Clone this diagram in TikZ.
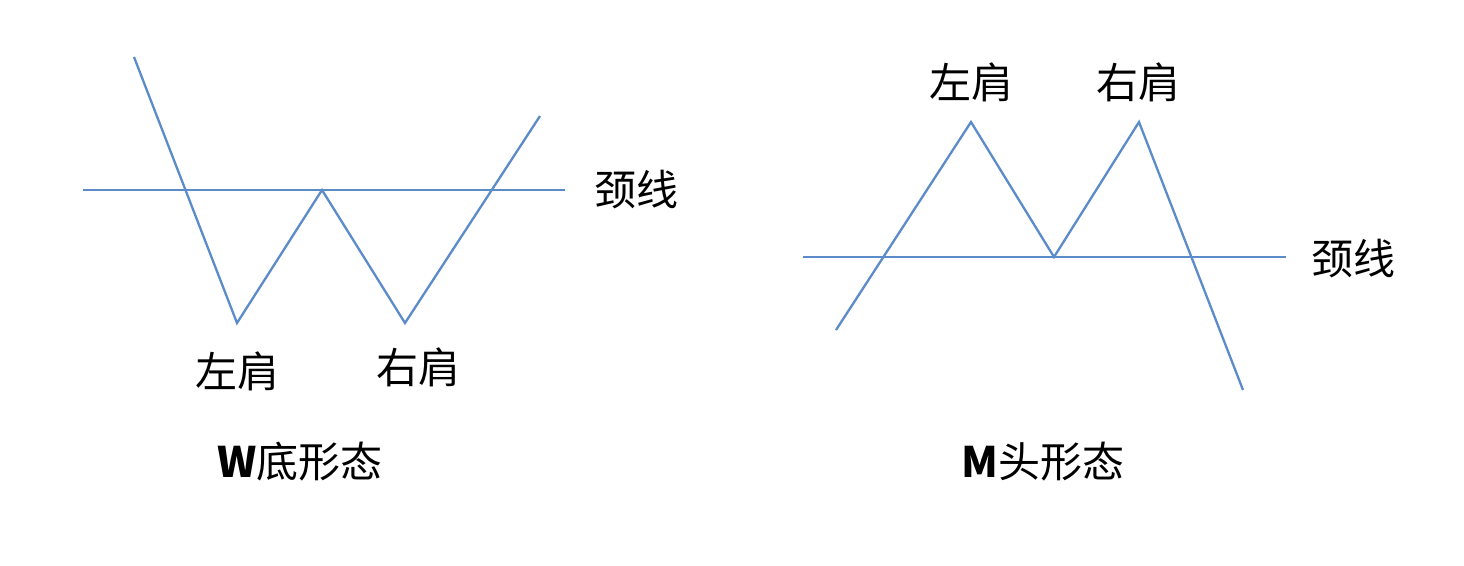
\documentclass[tikz,border=0pt]{standalone}
\usepackage{fontspec}
\setmainfont{Noto Sans CJK SC}
\definecolor{linecol}{RGB}{91,139,201}
\tikzset{
  pline/.style={draw=linecol, line width=2.3pt, line join=miter},
  lbl/.style={font=\fontsize{42}{44}\selectfont, inner sep=0pt},
}
\begin{document}
\begin{tikzpicture}[x=1pt, y=-1pt]
    \useasboundingbox (0,0) rectangle (1464,565);

    % W bottom: points
    \coordinate (w0) at (134,57);
    \coordinate (w1) at (237,323);
    \coordinate (w2) at (322,190);
    \coordinate (w3) at (405,323);
    \coordinate (w4) at (540,116);
    \coordinate (wn0) at (83,190);
    \coordinate (wn1) at (565,190);

    % W bottom: lines
    \draw[pline] (wn0) -- (wn1);
    \draw[pline] (w0) -- (w1) -- (w2) -- (w3) -- (w4);

    % W bottom: labels
    \node[lbl] (wneck) at (636,190) {颈线};
    \node[lbl] (wleft) at (237,371) {左肩};
    \node[lbl] (wright) at (418,367) {右肩};
    \node[lbl] (wtitle) at (300,462) {\textbf{W}底形态};

    % M top: points
    \coordinate (m0) at (836,330);
    \coordinate (m1) at (971,122);
    \coordinate (m2) at (1054,257);
    \coordinate (m3) at (1139,122);
    \coordinate (m4) at (1243,390);
    \coordinate (mn0) at (803,257);
    \coordinate (mn1) at (1286,257);

    % M top: lines
    \draw[pline] (mn0) -- (mn1);
    \draw[pline] (m0) -- (m1) -- (m2) -- (m3) -- (m4);

    % M top: labels
    \node[lbl] (mneck) at (1353,259) {颈线};
    \node[lbl] (mleft) at (971,82) {左肩};
    \node[lbl] (mright) at (1138,82) {右肩};
    \node[lbl] (mtitle) at (1043,462) {\textbf{M}头形态};

\end{tikzpicture}
\end{document}
